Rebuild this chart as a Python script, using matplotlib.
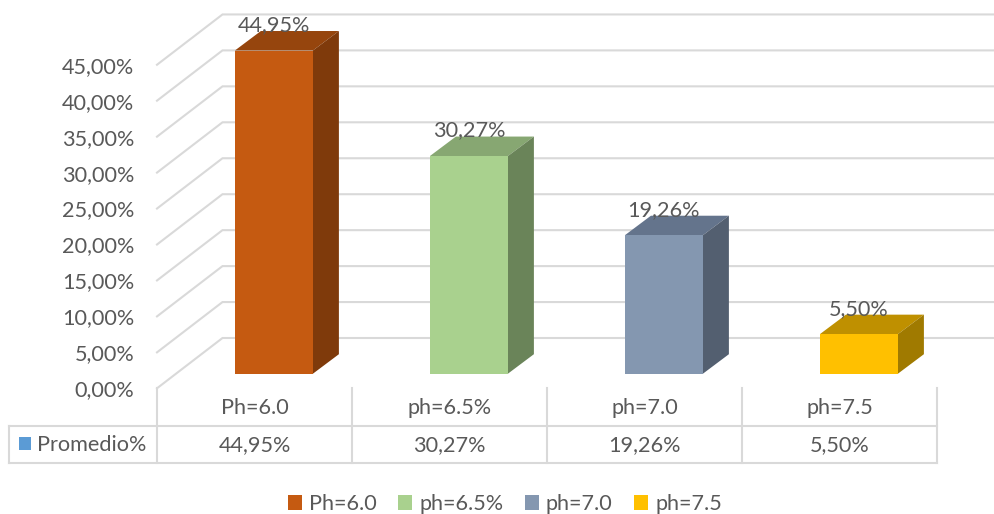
import matplotlib
matplotlib.use("Agg")
import matplotlib.pyplot as plt
from matplotlib.patches import Polygon, Patch

plt.rcParams['font.family'] = ['Lato', 'DejaVu Sans']

categories = ['Ph=6.0', 'ph=6.5%', 'ph=7.0', 'ph=7.5']
values = [44.95, 30.27, 19.26, 5.50]
value_labels = ['44,95%', '30,27%', '19,26%', '5,50%']
y_ticks = [0, 5, 10, 15, 20, 25, 30, 35, 40, 45]
y_tick_labels = ['0,00%', '5,00%', '10,00%', '15,00%', '20,00%', '25,00%',
                 '30,00%', '35,00%', '40,00%', '45,00%']
series_name = 'Promedio%'

front_colors = ['#C55A11', '#A9D18E', '#8497B0', '#FFC000']
top_colors = ['#96450D', '#87A772', '#64748C', '#BF9000']
side_colors = ['#7F3A0B', '#6A8459', '#535F70', '#A07A00']
GRID = '#D9D9D9'
TEXT = '#595959'
FS = 15.6

W, H = 995, 514
fig = plt.figure(figsize=(W / 100, H / 100), dpi=100, facecolor='white')

# front plane of the 3D box
L, R, BASE, TOP = 157, 937, 388.3, 28.8
ax = fig.add_axes([L / W, 1 - BASE / H, (R - L) / W, (BASE - TOP) / H])
ax.set_xlim(-0.5, 3.5)
ax.set_ylim(0, 50)
ppx = (R - L) / 4          # px per category
ppy = (BASE - TOP) / 50    # px per percent
dx = lambda p: p / ppx
dy = lambda p: p / ppy

for s in ax.spines.values():
    s.set_visible(False)
ax.patch.set_visible(False)
ax.set_yticks(y_ticks, y_tick_labels, fontsize=FS, color=TEXT)
ax.set_xticks(range(4), categories, fontsize=FS, color=TEXT)
ax.tick_params(axis='y', length=0, pad=16.5)
ax.tick_params(axis='x', length=0, pad=7)

# wall depth and grid
wall_x, wall_y = dx(65.5), dy(50.3)
for v in y_ticks:
    ax.plot([-0.5, -0.5 + wall_x, 3.5 + wall_x], [v, v + wall_y, v + wall_y],
            color=GRID, lw=1.5, clip_on=False, zorder=1, solid_joinstyle='miter')

# bars with depth
bar_w = dx(78)
depth_x, depth_y = dx(26), dy(19.5)
shift_x, floor = dx(19.4), dy(14.6)
xs = [i + shift_x for i in range(4)]
ax.bar(xs, values, width=bar_w, bottom=floor, color=front_colors, zorder=4)
for x, v, ct, cs in zip(xs, values, top_colors, side_colors):
    l, r = x - bar_w / 2, x + bar_w / 2
    t = floor + v
    ax.add_patch(Polygon([(l, t), (r, t), (r + depth_x, t + depth_y), (l + depth_x, t + depth_y)],
                         closed=True, fc=ct, ec='none', zorder=3, clip_on=False))
    ax.add_patch(Polygon([(r, floor), (r, t), (r + depth_x, t + depth_y), (r + depth_x, floor + depth_y)],
                         closed=True, fc=cs, ec='none', zorder=3, clip_on=False))
for x, v, s in zip(xs, values, value_labels):
    ax.annotate(s, (x, floor + v), xytext=(0, 25.5 * 0.72), textcoords='offset points',
                ha='center', va='center', fontsize=FS, color=TEXT, zorder=6, annotation_clip=False)

# data table under the plot
row1 = -dy(426 - BASE)
row2 = -dy(463 - BASE)
left = -0.5 - dx(L - 9)
tkw = dict(color=GRID, lw=1.5, clip_on=False, zorder=1, solid_capstyle='projecting')
ax.plot([left, 3.5], [row1, row1], **tkw)
ax.plot([left, 3.5], [row2, row2], **tkw)
ax.plot([left, left], [row1, row2], **tkw)
for e in [-0.5, 0.5, 1.5, 2.5, 3.5]:
    ax.plot([e, e], [0, row2], **tkw)
row_mid = -dy(445 - BASE)
for i, s in enumerate(value_labels):
    ax.text(i, row_mid, s, ha='center', va='center', fontsize=FS, color=TEXT, clip_on=False)
ax.text(-0.5 - dx(L - 37), row_mid, series_name, ha='left', va='center', fontsize=FS, color=TEXT)
ax.add_patch(Polygon([(-0.5 - dx(L - 19), -dy(437 - BASE)), (-0.5 - dx(L - 31), -dy(437 - BASE)),
                      (-0.5 - dx(L - 31), -dy(450 - BASE)), (-0.5 - dx(L - 19), -dy(450 - BASE))],
                     closed=True, fc='#5B9BD5', ec='none', clip_on=False))

handles = [Patch(fc=c, ec='none', label=n) for c, n in zip(front_colors, categories)]
fig.legend(handles=handles, loc='center', bbox_to_anchor=(505 / W, 1 - 504 / H), ncol=4,
           frameon=False, fontsize=FS, labelcolor=TEXT, handlelength=0.64, handleheight=0.64,
           handletextpad=0.32, columnspacing=1.0, borderpad=0, borderaxespad=0)

fig.savefig('out.png', dpi=100)
